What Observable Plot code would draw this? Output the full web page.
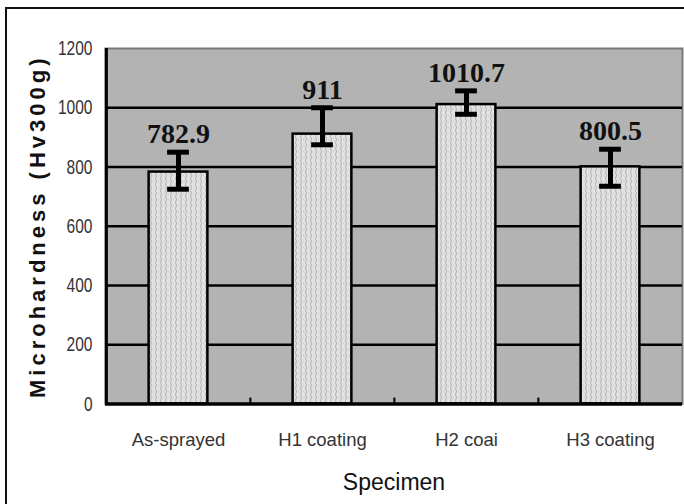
<!DOCTYPE html>
<html>
<head>
<meta charset="utf-8">
<script src="https://cdn.jsdelivr.net/npm/d3@7"></script>
<script src="https://cdn.jsdelivr.net/npm/@observablehq/plot@0.6"></script>
<style>
  html, body { margin: 0; padding: 0; overflow: hidden; background: #fff; width: 684px; height: 504px; }
  #wrap { position: relative; width: 684px; height: 504px; overflow: hidden; }
  #border { position: absolute; left: 5px; top: 7px; width: 720px; height: 560px; border: 2.5px solid #111; pointer-events: none; }
  svg { display: block; }
</style>
</head>
<body>
<div id="wrap"><div id="chart"></div><div id="border"></div></div>
<script>
const specimens = ["As-sprayed", "H1 coating", "H2 coai", "H3 coating"];
const hardness = [782.9, 911, 1010.7, 800.5];
const errUpper = [850, 1000, 1057, 860];
const errLower = [725, 875, 978, 735];
const valueLabels = ["782.9", "911", "1010.7", "800.5"];
const yTicks = [0, 200, 400, 600, 800, 1000, 1200];
const gridValues = [200, 400, 600, 800, 1000];
const yTitle = "Microhardness (Hv300g)";
const xTitle = "Specimen";

const rows = specimens.map((s, i) => ({
  specimen: s, value: hardness[i], hi: errUpper[i], lo: errLower[i], label: valueLabels[i]
}));

const W = 684, H = 504, mL = 105, mR = 2, mT = 48, mB = 100.5;
const band = (W - mL - mR) / specimens.length;
const barInset = (band - 59) / 2;
const capInset = (band - 22) / 2;

const chart = Plot.plot({
  width: W, height: H,
  marginLeft: mL, marginRight: mR, marginTop: mT, marginBottom: mB,
  style: { background: "transparent", fontFamily: "'Liberation Sans', Arial, sans-serif", overflow: "visible" },
  x: { domain: specimens, padding: 0, label: null },
  y: { domain: [0, 1200], label: null },
  marks: [
    Plot.frame({ fill: "#b3b3b3", stroke: "#7a7a7a", strokeWidth: 2 }),
    Plot.ruleY(gridValues, { stroke: "#000", strokeWidth: 2.5 }),
    Plot.barY(rows, { x: "specimen", y: "value", fill: "url(#texture)", stroke: "#000", strokeWidth: 2.5, insetLeft: barInset, insetRight: barInset }),
    Plot.ruleX(rows, { x: "specimen", y1: "lo", y2: "hi", stroke: "#000", strokeWidth: 5 }),
    Plot.tickY(rows, { x: "specimen", y: "hi", stroke: "#000", strokeWidth: 5, insetLeft: capInset, insetRight: capInset }),
    Plot.tickY(rows, { x: "specimen", y: "lo", stroke: "#000", strokeWidth: 5, insetLeft: capInset, insetRight: capInset }),
    Plot.text(rows, { x: "specimen", y: "hi", text: "label", lineAnchor: "bottom", dy: -9, fontFamily: "'Liberation Serif', 'Times New Roman', serif", fontWeight: "bold", fontSize: 28, fill: "#111" }),
    Plot.ruleX(specimens.slice(1), { dx: -band / 2, y1: 0, y2: 20, stroke: "#000", strokeWidth: 2 }),
    Plot.ruleX([specimens[0]], { dx: -band / 2, y1: 0, y2: 1200, stroke: "#000", strokeWidth: 3 }),
    Plot.ruleY([0], { stroke: "#000", strokeWidth: 3.5 }),
    Plot.axisY({ ticks: yTicks, tickFormat: d => String(d), tickSize: 0, tickPadding: 13, fontSize: 21, fill: "#333", label: null }),
    Plot.axisX({ tickSize: 0, tickPadding: 29, fontSize: 18.5, fill: "#333", label: null }),
    Plot.text([yTitle], { frameAnchor: "left", textAnchor: "middle", dx: -68, rotate: -90, fontSize: 22, fontWeight: "bold", fill: "#111" }),
    Plot.text([xTitle], { frameAnchor: "bottom", dy: 86, fontSize: 23, fill: "#111" })
  ]
});

// texture pattern for the bars
const ns = "http://www.w3.org/2000/svg";
const defs = document.createElementNS(ns, "defs");
defs.innerHTML = `<pattern id="texture" width="5" height="6" patternUnits="userSpaceOnUse">
  <rect width="5" height="6" fill="#e2e2e2"/>
  <path d="M1 0 Q2 1.5 1 3 Q0 4.5 1 6" fill="none" stroke="#a9a9a9" stroke-width="0.9"/>
  <path d="M3.5 1 L4 2.5" stroke="#c4c4c4" stroke-width="0.8"/>
</pattern>`;
const svg = chart.tagName.toLowerCase() === "svg" ? chart : chart.querySelector("svg");
svg.insertBefore(defs, svg.firstChild);
document.getElementById("chart").appendChild(chart);

// letter spacing on the y title, condensed y tick labels
svg.querySelectorAll("text").forEach(t => {
  if (t.textContent === yTitle) t.setAttribute("letter-spacing", "4");
});
svg.querySelectorAll("g[aria-label='y-axis tick label'] text").forEach(t => {
  const L = t.getComputedTextLength();
  t.setAttribute("textLength", (L * 0.74).toFixed(1));
  t.setAttribute("lengthAdjust", "spacingAndGlyphs");
});
</script>
</body>
</html>
